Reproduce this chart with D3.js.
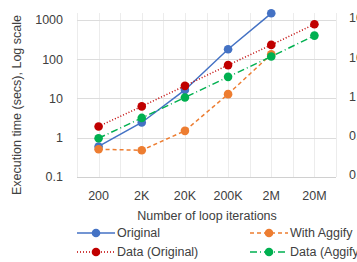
<!DOCTYPE html>
<html><head><meta charset="utf-8">
<script src="https://cdn.jsdelivr.net/npm/d3@7"></script>
<style>body{margin:0;background:#fff;overflow:hidden}svg{display:block}</style>
</head><body>
<script>
const categories = ["200","2K","20K","200K","2M","20M"];
const original = [0.6, 2.45, 16.5, 180, 1480, null];
const withAggify = [0.51, 0.48, 1.5, 12.9, 134, null];
const dataOriginal = [1.94, 6.3, 21, 71, 232, 780];
const dataAggify = [0.97, 3.2, 10.6, 35.6, 117, 400];
const yTicks = [0.1, 1, 10, 100, 1000];
const yTickLabels = ["0.1","1","10","100","1000"];
const rightTickLabels = ["0.01","0.1","1","10","100"];
const seriesNames = ["Original","With Aggify","Data (Original)","Data (Aggify)"];

(function(){
const W = 357, H = 262;
const svg = d3.select("body").append("svg").attr("width", W).attr("height", H);
const font = "Liberation Sans, Arial, sans-serif";
const pl = 77, pr = 336, pt = 13, pb = 177;

const x = d3.scaleBand().domain(categories).range([pl, pr]);
const y = d3.scaleLog().domain([0.1, 1000]).range([pb, 20]);

const vx = [];
categories.forEach(c => { vx.push(x(c)); vx.push(x(c) + x.bandwidth()/2); });
vx.push(pr);
svg.append("g").selectAll("line").data(vx).join("line")
  .attr("x1", d => Math.round(d)+0.5).attr("x2", d => Math.round(d)+0.5).attr("y1", pt).attr("y2", pb)
  .attr("stroke", "#ececec").attr("stroke-width", 1);
svg.append("g").selectAll("line").data(yTicks).join("line")
  .attr("x1", pl).attr("x2", pr).attr("y1", d => Math.round(y(d))+0.5).attr("y2", d => Math.round(y(d))+0.5)
  .attr("stroke", d => d === 0.1 ? "#d0d0d0" : "#dcdcdc").attr("stroke-width", 1);

svg.append("g").selectAll("text").data(yTicks).join("text")
  .attr("x", 63).attr("y", d => y(d)).attr("dy", "0.35em").attr("text-anchor", "end")
  .attr("font-family", font).attr("font-size", 12.5).attr("fill", "#404040")
  .text((d, i) => yTickLabels[i]);
svg.append("g").selectAll("text").data(yTicks).join("text")
  .attr("x", 349).attr("y", d => y(d) - 2).attr("dy", "0.35em").attr("text-anchor", "start")
  .attr("font-family", font).attr("font-size", 12.5).attr("fill", "#404040")
  .text((d, i) => rightTickLabels[i]);
svg.append("g").selectAll("text").data(categories).join("text")
  .attr("x", d => x(d) + x.bandwidth()/2).attr("y", 196).attr("dy", "0.35em").attr("text-anchor", "middle")
  .attr("font-family", font).attr("font-size", 12.5).attr("fill", "#404040")
  .text(d => d);
svg.append("text").attr("x", 207).attr("y", 216).attr("dy", "0.35em").attr("text-anchor", "middle")
  .attr("font-family", font).attr("font-size", 12.5).attr("fill", "#404040").text("Number of loop iterations");
svg.append("text").attr("transform", "translate(17,105) rotate(-90)").attr("dy", "0.35em").attr("text-anchor", "middle")
  .attr("font-family", font).attr("font-size", 12.5).attr("fill", "#404040").text("Execution time (secs), Log scale");

const styles = [
  {data: original, color: "#4472C4", dash: null},
  {data: withAggify, color: "#ED7D31", dash: "4,3"},
  {data: dataOriginal, color: "#C00000", dash: "1,2"},
  {data: dataAggify, color: "#00B050", dash: "7,3,1,3"},
];
const line = d3.line().defined(d => d.v != null).x(d => x(d.c) + x.bandwidth()/2).y(d => y(d.v));
styles.forEach(s => {
  const pts = categories.map((c, i) => ({c, v: s.data[i]}));
  svg.append("path").datum(pts).attr("d", line).attr("fill", "none")
    .attr("stroke", s.color).attr("stroke-width", 1.5).attr("stroke-dasharray", s.dash);
  svg.append("g").selectAll("circle").data(pts.filter(d => d.v != null)).join("circle")
    .attr("cx", d => x(d.c) + x.bandwidth()/2).attr("cy", d => y(d.v)).attr("r", 4.3).attr("fill", s.color);
});

const legPos = [[77, 233], [250, 233], [77, 252], [250, 252]];
styles.forEach((s, i) => {
  const [lx, ly] = legPos[i];
  const g = svg.append("g");
  g.append("line").attr("x1", lx).attr("x2", lx + 38).attr("y1", ly).attr("y2", ly)
    .attr("stroke", s.color).attr("stroke-width", 1.5).attr("stroke-dasharray", s.dash);
  g.append("circle").attr("cx", lx + 19).attr("cy", ly).attr("r", 4.3).attr("fill", s.color);
  g.append("text").attr("x", lx + 40).attr("y", ly).attr("dy", "0.35em")
    .attr("font-family", font).attr("font-size", 12.5).attr("fill", "#404040").text(seriesNames[i]);
});
})();
</script>
</body></html>
